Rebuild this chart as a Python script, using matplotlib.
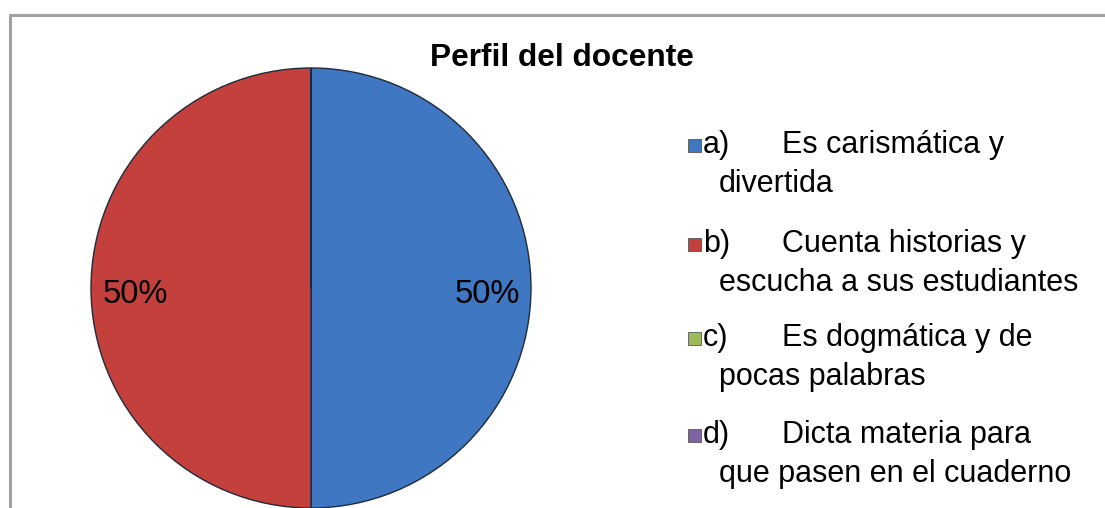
import matplotlib
matplotlib.use('Agg')
import matplotlib.pyplot as plt
from matplotlib.patches import Rectangle
from matplotlib.lines import Line2D

# Chart data
letters = ['a)', 'b)', 'c)', 'd)']
first_lines = ['Es carismática y', 'Cuenta historias y',
               'Es dogmática y de', 'Dicta materia para']
second_lines = ['divertida', 'escucha a sus estudiantes',
                'pocas palabras', 'que pasen en el cuaderno']
values = [50, 50, 0, 0]
colors = ['#3f77c2', '#c4403c', '#9bbb59', '#8064a2']
title = 'Perfil del docente'

W, H = 1105, 508
plt.rcParams['font.family'] = ['Liberation Sans', 'DejaVu Sans']

fig = plt.figure(figsize=(W / 100, H / 100), dpi=100)


def fx(px):
    return px / W


def fy(py):
    return (H - py) / H


# Outer chart border (top and left visible)
fig.add_artist(Line2D([fx(10), fx(10), fx(W + 5)], [fy(H + 5), fy(15), fy(15)],
                      color='#a0a0a0', lw=2.2, transform=fig.transFigure))

# Pie
cx, cy, r = 311, 288, 220
ax = fig.add_axes([fx(cx - r), fy(cy + r), 2 * r / W, 2 * r / H])


def pct(p):
    return f'{p:.0f}%' if p > 0 else ''


wedges, texts, autotexts = ax.pie(
    values, colors=colors, startangle=90, counterclock=False,
    autopct=pct, pctdistance=0.8,
    wedgeprops=dict(edgecolor='#1f2a3a', linewidth=1.0),
    textprops=dict(fontsize=23.5, color='black'))
for w in wedges:
    w.set_clip_on(False)
for t in autotexts:
    x, y = t.get_position()
    t.set_position((x, y - 0.03))
ax.set_xlim(-1, 1)
ax.set_ylim(-1, 1)

# Title
fig.text(fx(562), fy(66), title, ha='center', va='baseline',
         fontsize=22.8, fontweight='bold')

# Legend
base = [153, 252, 346, 443]
gap = 39
for i in range(len(letters)):
    b = base[i]
    fig.add_artist(Rectangle((fx(688), fy(b - 1)), 13 / W, 13 / H,
                             facecolor=colors[i], edgecolor='#555555',
                             lw=0.6, transform=fig.transFigure))
    fig.text(fx(703), fy(b), letters[i], ha='left', va='baseline', fontsize=22)
    fig.text(fx(782), fy(b), first_lines[i], ha='left', va='baseline',
             fontsize=22)
    fig.text(fx(719), fy(b + gap), second_lines[i], ha='left', va='baseline',
             fontsize=22)

fig.savefig('out.png', dpi=100)
